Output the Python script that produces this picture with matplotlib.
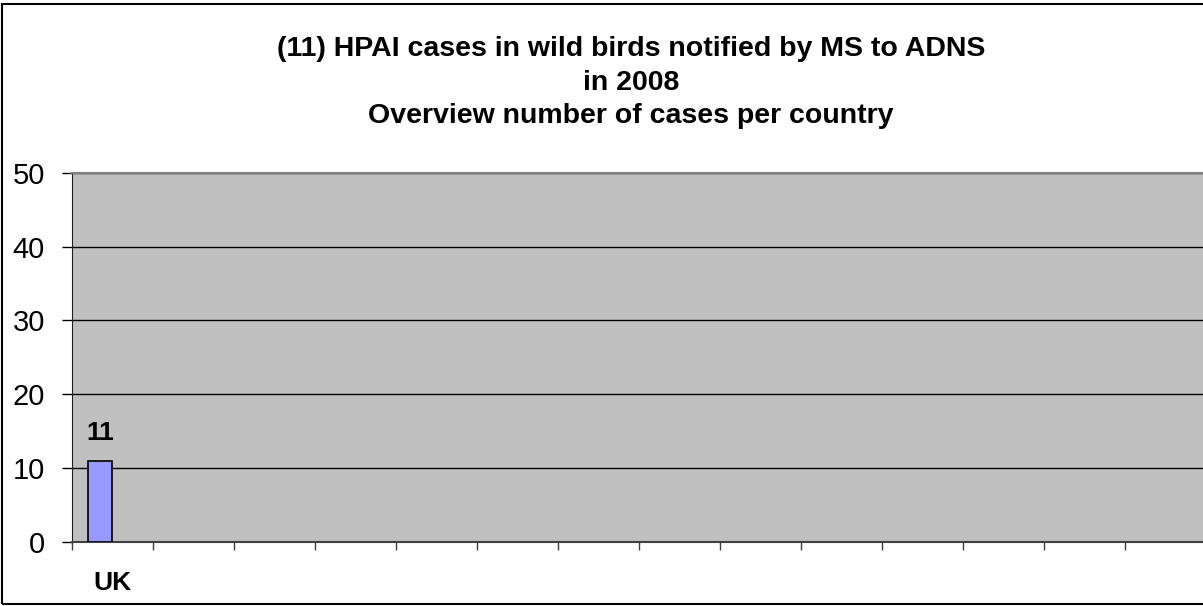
import matplotlib.pyplot as plt
from matplotlib.patches import Rectangle

plt.rcParams['font.family'] = ['Liberation Sans', 'DejaVu Sans']

paises = ["UK", "", "", "", "", "", "", "", "", "", "", "", "", ""]
casos = [11]
y_ticks = [0, 10, 20, 30, 40, 50]
titulo = ("(11) HPAI cases in wild birds notified by MS to ADNS\n"
          "in 2008\n"
          "Overview number of cases per country")

W, H = 1203, 606
fig = plt.figure(figsize=(W / 100, H / 100), dpi=100)

# moldura externa
fig.patches.append(Rectangle((2 / W, 2 / H), 1.2, (604 - 4) / H, transform=fig.transFigure,
                             fill=False, edgecolor="black", linewidth=1.5))

ax = fig.add_axes([72 / W, (H - 542) / H, (1206 - 72) / W, (542 - 172.7) / H])
ax.set_facecolor("#C0C0C0")

n = len(paises)
pos = [i - 0.155 for i in range(len(casos))]
ax.bar(pos, casos, width=0.305, color="#9999FF", edgecolor="black", linewidth=1.2, zorder=3)
for x, v in zip(pos, casos):
    ax.annotate(str(v), (x, v), xytext=(0, 20), textcoords="offset points",
                ha="center", va="center", fontsize=19, fontweight="bold")

ax.set_xlim(-0.5, n - 0.5)
ax.set_ylim(0, 50)
ax.set_yticks(y_ticks)
ax.yaxis.grid(True, color="black", linewidth=1)
ax.set_axisbelow(True)
ax.tick_params(axis="y", labelsize=21, length=7.5, width=1, pad=12)

ax.set_xticks(range(n))
ax.set_xticklabels(paises, fontsize=19, fontweight="bold")
ax.set_xticks([i - 0.5 for i in range(n + 1)], minor=True)
ax.tick_params(axis="x", which="major", length=0, pad=21)
ax.tick_params(axis="x", which="minor", length=6, width=1, color="#404040")

ax.spines["top"].set_color("#808080")
ax.spines["top"].set_linewidth(1.5)
ax.spines["right"].set_visible(False)
ax.spines["left"].set_color("#202020")
ax.spines["bottom"].set_color("#404040")
ax.spines["bottom"].set_linewidth(1.5)

fig.text(631 / W, 1 - 82.5 / H, titulo, ha="center", va="center", fontsize=20.5,
         fontweight="bold", linespacing=1.38)

fig.savefig("out.png", dpi=100)
